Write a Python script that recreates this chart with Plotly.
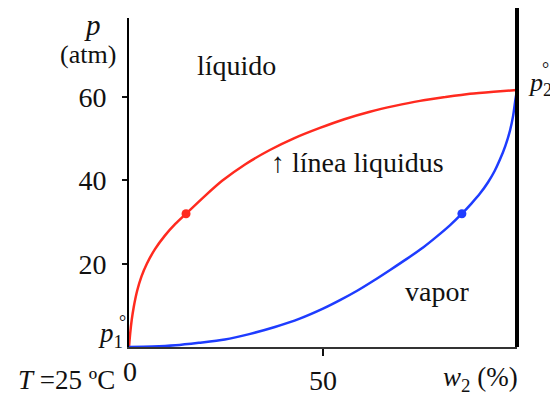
import plotly.graph_objects as go

# Liquidus line (red): w2 (%) vs p (atm)
liq_w = [0, 0.3, 0.7, 1.2, 2.1, 3.2, 4.6, 6.7, 9.3, 12.0, 14.7, 19.6, 24.0, 30.0, 36.3, 42.5, 49.2,
         55.5, 62.1, 68.5, 75.0, 81.5, 87.9, 94.0, 100]
liq_p = [0, 3.2, 6.5, 9.5, 13.5, 16.9, 20.0, 23.5, 26.8, 29.6, 32.0, 36.3, 39.9, 43.9, 47.3, 50.1, 52.6,
         54.7, 56.5, 57.9, 59.1, 60.0, 60.8, 61.3, 61.7]

# Vapor line (blue)
vap_w = [0, 6, 12, 18, 24.7, 31, 37.6, 44, 50, 54.5, 58.8, 63, 67.3, 71.5, 75.8, 79.3, 82.7, 85.8,
         88.3, 90.5, 92.5, 94.2, 95.6, 97.0, 98.2, 99.0, 99.5, 100]
vap_p = [0, 0.1, 0.4, 1.0, 1.8, 3.1, 4.8, 6.8, 9.2, 11.3, 13.5, 15.9, 18.5, 21.1, 23.9, 26.5, 29.2, 32.0,
         34.5, 36.9, 39.5, 42.2, 45.0, 48.3, 52.0, 55.5, 58.8, 61.7]

# Marked points
dot_liq = ([14.7], [32.0])
dot_vap = ([85.8], [32.0])

y_ticks = [20, 40, 60]
x_ticks = [50]

RED = "#ff2a1f"
BLUE = "#1e3cff"
FONT = "'Liberation Serif', 'Times New Roman', Times, serif"
INK = "#111111"
FS = 28

fig = go.Figure()
fig.add_trace(go.Scatter(x=liq_w, y=liq_p, mode="lines", line=dict(color=RED, width=2.5, shape="spline", smoothing=0.7),
                         showlegend=False, hoverinfo="skip"))
fig.add_trace(go.Scatter(x=vap_w, y=vap_p, mode="lines", line=dict(color=BLUE, width=2.5, shape="spline", smoothing=0.8),
                         showlegend=False, hoverinfo="skip"))
fig.add_trace(go.Scatter(x=dot_liq[0], y=dot_liq[1], mode="markers", marker=dict(color=RED, size=9),
                         showlegend=False, hoverinfo="skip", cliponaxis=False))
fig.add_trace(go.Scatter(x=dot_vap[0], y=dot_vap[1], mode="markers", marker=dict(color=BLUE, size=9),
                         showlegend=False, hoverinfo="skip", cliponaxis=False))

fig.update_layout(
    width=550, height=396,
    margin=dict(l=121, r=41, t=10, b=57, autoexpand=False),
    paper_bgcolor="white", plot_bgcolor="white",
    font=dict(family=FONT, color=INK, size=FS),
    xaxis=dict(range=[0, 100], showgrid=False, zeroline=False, showline=True, linecolor="#333333", linewidth=2,
               tickvals=x_ticks, ticktext=[str(v) for v in x_ticks], ticks="outside", ticklen=7, tickwidth=2,
               tickcolor=INK, tickfont=dict(family=FONT, size=FS, color=INK), automargin=False),
    yaxis=dict(range=[0, 79], showgrid=False, zeroline=False, showline=True, linecolor="black", linewidth=2,
               tickvals=y_ticks, ticktext=[str(v) for v in y_ticks], ticks="outside", ticklen=5, tickwidth=1.5,
               tickcolor=INK, tickfont=dict(family=FONT, size=FS, color=INK), ticklabelstandoff=10,
               automargin=False),
    shapes=[dict(type="line", xref="paper", yref="paper", x0=1, x1=1, y0=0, y1=1.06,
                 line=dict(color="black", width=4))],
)

def ann(x, y, text, size=FS, xanchor="center", yanchor="middle", data=False):
    fig.add_annotation(x=x, y=y, xref="x" if data else "paper", yref="y" if data else "paper",
                       text=text, showarrow=False,
                       font=dict(family=FONT, size=size, color=INK), xanchor=xanchor, yanchor=yanchor)

# inside-plot labels (data coordinates)
ann(27.8, 67.5, "líquido", data=True)
ann(58.9, 44.2, "↑ línea liquidus", data=True)
ann(79.4, 13.4, "vapor", data=True)

# outside labels (paper coordinates)
ann(-0.095, 0.979, "<i>p</i>", size=29)
ann(-0.106, 0.888, "(atm)", size=26)
ann(1.022, 0.80, "<i>p</i><sub>2</sub>", size=26, xanchor="left")
ann(1.073, 0.846, "°", size=18)
ann(-0.010, 0.037, "<i>p</i><sub>1</sub>", size=27, xanchor="right")
ann(-0.018, 0.076, "°", size=18)
ann(0.003, -0.073, "0")
ann(-0.162, -0.099, "<i>T</i> =25 ºC", size=27)
ann(0.905, -0.096, "<i>w</i><sub>2</sub> (%)", size=27)

fig.write_html("out.html")
